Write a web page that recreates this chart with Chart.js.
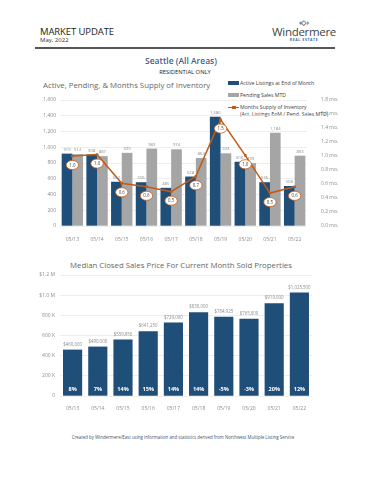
<!DOCTYPE html>
<html>
<head>
<meta charset="utf-8">
<script src="https://cdn.jsdelivr.net/npm/chart.js@4.4.1/dist/chart.umd.min.js"></script>
<style>
  body { margin: 0; width: 371px; height: 480px; background: #fff; font-family: "Open Sans", sans-serif; position: relative; overflow: hidden; }
  .abs { position: absolute; white-space: nowrap; }
  #hdr1 { left: 40px; top: 25px; font-size: 9.5px; color: #222; letter-spacing: -0.1px; }
  #hdr2 { left: 40px; top: 36px; font-size: 6px; color: #333; }
  #rule { left: 35px; top: 47px; width: 300px; height: 2px; background: #555; }
  #logo { left: 270px; top: 19px; width: 68px; text-align: center; color: #444; }
  #logo .icon { font-size: 7px; line-height: 7px; color: #555; font-weight: bold; }
  #logo .name { font-size: 11.5px; line-height: 12px; letter-spacing: -0.3px; }
  #logo .sub { font-size: 3.5px; line-height: 4px; color: #3a6da0; letter-spacing: 0.6px; font-weight: bold; }
  #city { left: 0; width: 362px; top: 55px; text-align: center; font-size: 8.5px; font-weight: 600; color: #3e5f8a; }
  #resi { left: 0; width: 370px; top: 68px; text-align: center; font-size: 5.8px; color: #222; }
  #t1 { left: 43px; top: 80px; font-size: 7.8px; color: #666; }
  #t2 { left: 0; width: 362px; top: 260px; text-align: center; font-size: 7.8px; color: #666; }
  #foot { left: 0; width: 366px; top: 434px; text-align: center; font-size: 4.4px; color: #44546a; }
  .leg { font-size: 5.2px; color: #404040; }
  .sw { position: absolute; }
  #c1 { position: absolute; left: 0; top: 90px; }
  #c2 { position: absolute; left: 0; top: 265px; }
</style>
</head>
<body>
<div class="abs" id="hdr1">MARKET UPDATE</div>
<div class="abs" id="hdr2">May, 2022</div>
<div class="abs" id="rule"></div>
<div class="abs" id="logo"><div class="icon">&lsaquo;&#9671;&rsaquo;</div><div class="name">Windermere</div><div class="sub">REAL ESTATE</div></div>
<div class="abs" id="city">Seattle (All Areas)</div>
<div class="abs" id="resi">RESIDENTIAL ONLY</div>
<div class="abs" id="t1">Active, Pending, &amp; Months Supply of Inventory</div>

<div class="sw" style="left:228px;top:81px;width:11px;height:4px;background:#1f4e79"></div>
<div class="abs leg" style="left:240px;top:79px">Active Listings at End of Month</div>
<div class="sw" style="left:228px;top:93px;width:11px;height:4px;background:#a5a5a5"></div>
<div class="abs leg" style="left:240px;top:91px">Pending Sales MTD</div>
<div class="sw" style="left:228px;top:106.5px;width:11px;height:1.5px;background:#c55a11"></div>
<div class="sw" style="left:232px;top:105.5px;width:3.5px;height:3.5px;background:#c55a11"></div>
<div class="abs leg" style="left:240px;top:103px">Months Supply of Inventory</div>
<div class="abs leg" style="left:240px;top:110px">(Act. Listings EoM / Pend. Sales MTD)</div>

<canvas id="c1" width="371" height="152"></canvas>

<div class="abs" id="t2">Median Closed Sales Price For Current Month Sold Properties</div>
<canvas id="c2" width="371" height="150"></canvas>

<div class="abs" id="foot">Created by Windermere/East using information and statistics derived from Northwest Multiple Listing Service</div>

<script>
// Data
const months = ['05/13', '05/14', '05/15', '05/16', '05/17', '05/18', '05/19', '05/20', '05/21', '05/22'];
const activeListings = [919, 908, 562, 556, 485, 628, 1386, 816, 556, 508];
const pendingSales = [912, 887, 929, 983, 974, 864, 923, 799, 1184, 893];
const monthsSupply = [1.0, 1.02, 0.61, 0.56, 0.49, 0.71, 1.52, 1.01, 0.47, 0.56];
const medianPrice = [460000, 490000, 559950, 641250, 729000, 830000, 784925, 765000, 919000, 1025500];
const priceChange = ['8%', '7%', '14%', '15%', '14%', '14%', '-5%', '-3%', '20%', '12%'];
const priceTickLabels = { 0: '0', 200000: '200 K', 400000: '400 K', 600000: '600 K', 800000: '800 K', 1000000: '$1.0 M', 1200000: '$1.2 M' };

const colors = {
    blue: '#1f4e79',
    gray: '#a5a5a5',
    orange: '#c55a11',
    grid: '#e3e3e3',
    tick: '#8c8c8c'
};
const FONT = '"Open Sans", sans-serif';

Chart.defaults.font.family = FONT;
Chart.defaults.animation = false;
Chart.defaults.responsive = false;

const fmtNum = (v) => v.toLocaleString('en-US');

// labels for the inventory chart
const inventoryLabels = {
    id: 'inventoryLabels',
    afterDatasetsDraw(chart) {
        const ctx = chart.ctx;
        ctx.save();
        ctx.textAlign = 'center';
        ctx.textBaseline = 'bottom';
        ctx.font = '4.2px ' + FONT;
        ctx.fillStyle = '#8c8c8c';
        [0, 1].forEach((di) => {
            chart.getDatasetMeta(di).data.forEach((bar, i) => {
                ctx.fillText(fmtNum(chart.data.datasets[di].data[i]), bar.x, bar.y - 2);
            });
        });
        chart.getDatasetMeta(2).data.forEach((pt, i) => {
            const x = pt.x, y = pt.y + 9;
            ctx.beginPath();
            ctx.ellipse(x, y, 6.2, 4.6, 0, 0, Math.PI * 2);
            ctx.fillStyle = '#fff';
            ctx.fill();
            ctx.lineWidth = 0.8;
            ctx.strokeStyle = colors.orange;
            ctx.stroke();
            ctx.fillStyle = '#404040';
            ctx.font = '4.4px ' + FONT;
            ctx.textBaseline = 'middle';
            ctx.fillText(monthsSupply[i].toFixed(1), x, y + 0.3);
        });
        ctx.restore();
    }
};

const initInventoryChart = () => {
    const ctx = document.getElementById('c1').getContext('2d');
    new Chart(ctx, {
        type: 'bar',
        data: {
            labels: months,
            datasets: [
                { label: 'Active Listings at End of Month', data: activeListings, backgroundColor: colors.blue, order: 2, yAxisID: 'y' },
                { label: 'Pending Sales MTD', data: pendingSales, backgroundColor: colors.gray, order: 2, yAxisID: 'y' },
                {
                    type: 'line', label: 'Months Supply of Inventory', data: monthsSupply, yAxisID: 'y1', order: 0,
                    borderColor: colors.orange, borderWidth: 1.5, pointRadius: 1.8, pointStyle: 'rect',
                    pointBackgroundColor: colors.orange, pointBorderWidth: 0, tension: 0
                }
            ]
        },
        options: {
            layout: { padding: { top: 10, left: 0, right: 0, bottom: 0 } },
            datasets: { bar: { categoryPercentage: 0.865, barPercentage: 1 } },
            plugins: { legend: { display: false }, tooltip: { enabled: false } },
            scales: {
                x: {
                    grid: { display: false },
                    border: { display: false },
                    ticks: { color: colors.tick, font: { size: 5 }, padding: 3 },
                    afterFit: (s) => { s.height = 16; }
                },
                y: {
                    min: 0, max: 1600,
                    ticks: { stepSize: 200, color: colors.tick, font: { size: 5 }, padding: 4, callback: (v) => fmtNum(v) },
                    grid: { color: colors.grid, drawTicks: false, lineWidth: 0.6 },
                    border: { display: false },
                    afterFit: (s) => { s.width = 60; }
                },
                y1: {
                    position: 'right', min: 0, max: 1.8,
                    ticks: { stepSize: 0.2, color: colors.tick, font: { size: 5 }, padding: 6, callback: (v) => v.toFixed(1) + ' mo.' },
                    grid: { display: false },
                    border: { display: false },
                    afterFit: (s) => { s.width = 64; }
                }
            }
        },
        plugins: [inventoryLabels]
    });
};

// labels for the price chart
const priceLabels = {
    id: 'priceLabels',
    afterDatasetsDraw(chart) {
        const ctx = chart.ctx;
        ctx.save();
        ctx.textAlign = 'center';
        chart.getDatasetMeta(0).data.forEach((bar, i) => {
            ctx.font = '4.4px ' + FONT;
            ctx.fillStyle = '#8c8c8c';
            ctx.textBaseline = 'bottom';
            ctx.fillText('$' + fmtNum(medianPrice[i]), bar.x, bar.y - 3);
            ctx.font = 'bold 5.6px ' + FONT;
            ctx.fillStyle = '#fff';
            ctx.textBaseline = 'middle';
            ctx.fillText(priceChange[i], bar.x, chart.chartArea.bottom - 7);
        });
        ctx.restore();
    }
};

const initPriceChart = () => {
    const ctx = document.getElementById('c2').getContext('2d');
    new Chart(ctx, {
        type: 'bar',
        data: {
            labels: months,
            datasets: [{ label: 'Median Closed Sales Price', data: medianPrice, backgroundColor: colors.blue, categoryPercentage: 0.76, barPercentage: 1 }]
        },
        options: {
            layout: { padding: { top: 10, left: 0, right: 59, bottom: 0 } },
            plugins: { legend: { display: false }, tooltip: { enabled: false } },
            scales: {
                x: {
                    grid: { display: false },
                    border: { display: false },
                    ticks: { color: colors.tick, font: { size: 5 }, padding: 2 },
                    afterFit: (s) => { s.height = 19; }
                },
                y: {
                    min: 0, max: 1200000,
                    ticks: { stepSize: 200000, color: colors.tick, font: { size: 5 }, padding: 5, callback: (v) => priceTickLabels[v] },
                    grid: { color: colors.grid, drawTicks: false, lineWidth: 0.6 },
                    border: { display: false },
                    afterFit: (s) => { s.width = 60; }
                }
            }
        },
        plugins: [priceLabels]
    });
};

initInventoryChart();
initPriceChart();
</script>
</body>
</html>
